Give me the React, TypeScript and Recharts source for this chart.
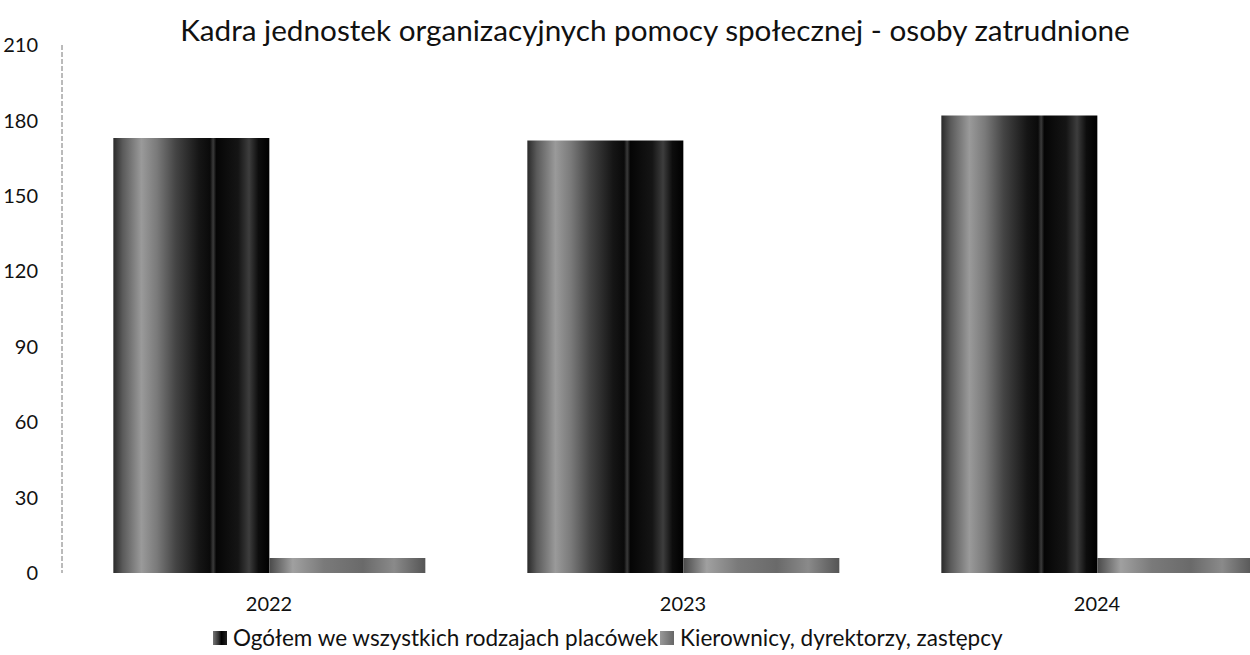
import { Bar, BarChart, XAxis, YAxis } from "recharts";

const years = ["2022", "2023", "2024"];
const ogolem = [173, 172, 182];
const kierownicy = [6, 6, 6];
const yTicks = [0, 30, 60, 90, 120, 150, 180, 210];

const seriesNames = {
  ogolem: "Ogółem we wszystkich rodzajach placówek",
  kierownicy: "Kierownicy, dyrektorzy, zastępcy",
};

const data = years.map((year, i) => ({
  year,
  ogolem: ogolem[i],
  kierownicy: kierownicy[i],
}));

const FONT = "Lato, 'Noto Sans', sans-serif";

function LegendRow() {
  const items = [
    { label: seriesNames.ogolem, fill: "url(#bigBarLeg)" },
    { label: seriesNames.kierownicy, fill: "url(#smallBarLeg)" },
  ];
  return (
    <div
      style={{
        position: "absolute",
        top: 624,
        left: 213,
        display: "flex",
        alignItems: "center",
        fontFamily: FONT,
        fontSize: 22.5,
        lineHeight: "28px",
        color: "#111",
        whiteSpace: "nowrap",
      }}
    >
      <svg width={0} height={0} style={{ position: "absolute" }}>
        <defs>
          <linearGradient id="bigBarLeg" x1="0" y1="0" x2="1" y2="0">
            <stop offset="0%" stopColor="#777" />
            <stop offset="40%" stopColor="#333" />
            <stop offset="60%" stopColor="#000" />
            <stop offset="100%" stopColor="#222" />
          </linearGradient>
          <linearGradient id="smallBarLeg" x1="0" y1="0" x2="1" y2="0">
            <stop offset="0%" stopColor="#999" />
            <stop offset="100%" stopColor="#666" />
          </linearGradient>
        </defs>
      </svg>
      {items.map((it) => (
        <div key={it.label} style={{ display: "flex", alignItems: "center" }}>
          <svg width={14} height={14} style={{ marginRight: 6 }}>
            <rect width={14} height={14} fill={it.fill} />
          </svg>
          <span style={{ marginRight: 2 }}>{it.label}</span>
        </div>
      ))}
    </div>
  );
}

export default function App() {
  return (
    <div style={{ position: "absolute", top: 0, left: 0, width: 1250, height: 655, overflow: "hidden", background: "#fff" }}>
      <BarChart
        width={1304}
        height={655}
        data={data}
        margin={{ top: 45, right: 0, left: 0, bottom: 52 }}
        barCategoryGap="12.4%"
        barGap={0}
      >
        <defs>
          <linearGradient id="bigBar" x1="0" y1="0" x2="1" y2="0">
            <stop offset="0%" stopColor="#2a2a2a" />
            <stop offset="6%" stopColor="#5a5a5a" />
            <stop offset="18%" stopColor="#9a9a9a" />
            <stop offset="28%" stopColor="#7a7a7a" />
            <stop offset="40%" stopColor="#444" />
            <stop offset="55%" stopColor="#151515" />
            <stop offset="62%" stopColor="#0a0a0a" />
            <stop offset="64%" stopColor="#3a3a3a" />
            <stop offset="66%" stopColor="#050505" />
            <stop offset="80%" stopColor="#151515" />
            <stop offset="87%" stopColor="#3d3d3d" />
            <stop offset="93%" stopColor="#0d0d0d" />
            <stop offset="100%" stopColor="#000" />
          </linearGradient>
          <linearGradient id="smallBar" x1="0" y1="0" x2="1" y2="0">
            <stop offset="0%" stopColor="#4a4a4a" />
            <stop offset="15%" stopColor="#a0a0a0" />
            <stop offset="35%" stopColor="#7a7a7a" />
            <stop offset="60%" stopColor="#6a6a6a" />
            <stop offset="80%" stopColor="#8a8a8a" />
            <stop offset="100%" stopColor="#555" />
          </linearGradient>
        </defs>
        <text x={655} y={41} textAnchor="middle" fontFamily={FONT} fontSize={29.7} fill="#111">
          Kadra jednostek organizacyjnych pomocy społecznej - osoby zatrudnione
        </text>
        <XAxis
          dataKey="year"
          axisLine={false}
          tickLine={false}
          tickSize={0}
          tickMargin={24}
          tick={{ fontFamily: FONT, fontSize: 20, fill: "#111" }}
        />
        <YAxis
          width={62}
          domain={[0, 210]}
          ticks={yTicks}
          interval={0}
          axisLine={{ stroke: "#777", strokeDasharray: "5 2" }}
          tickLine={false}
          tickSize={0}
          tickMargin={24}
          tick={{ fontFamily: FONT, fontSize: 20, fill: "#111" }}
        />
        <Bar dataKey="ogolem" name={seriesNames.ogolem} fill="url(#bigBar)" isAnimationActive={false} />
        <Bar dataKey="kierownicy" name={seriesNames.kierownicy} fill="url(#smallBar)" isAnimationActive={false} />
      </BarChart>
      <LegendRow />
    </div>
  );
}
